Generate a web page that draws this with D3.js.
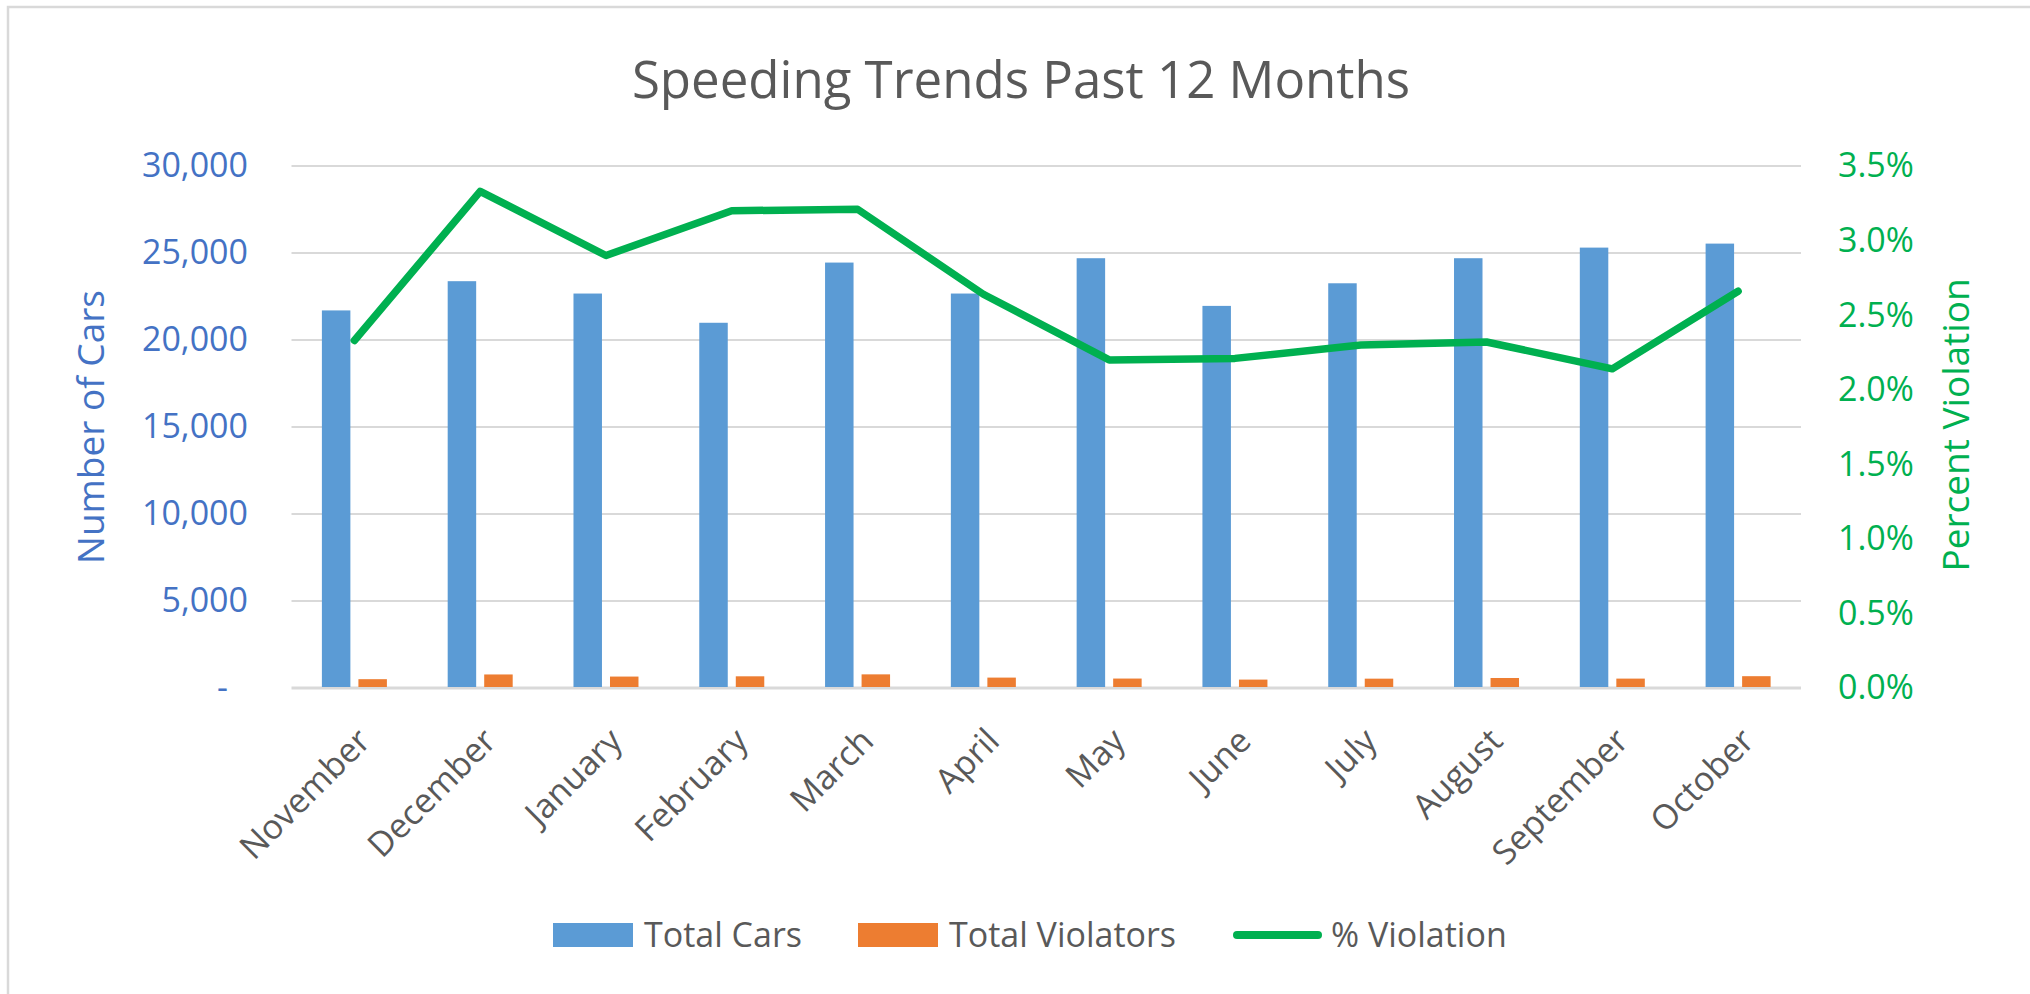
<!DOCTYPE html>
<html>
<head>
<meta charset="utf-8">
<script src="https://cdnjs.cloudflare.com/ajax/libs/d3/7.8.5/d3.min.js"></script>
<style>
  html, body { margin: 0; padding: 0; background: #fff; }
  svg text { font-family: "Segoe UI", "Open Sans", sans-serif; }
</style>
</head>
<body>
<div id="content"></div>
<script>
// Chart data.
var months = ['November', 'December', 'January', 'February', 'March', 'April',
              'May', 'June', 'July', 'August', 'September', 'October'];
var totalCars = [21700, 23380, 22670, 20990, 24450, 22670, 24700, 21960, 23260, 24700, 25310, 25540];
var totalViolators = [507, 778, 657, 672, 784, 598, 543, 483, 537, 575, 540, 679];
var pctViolation = [0.0233, 0.0333, 0.0290, 0.0320, 0.0321, 0.0264, 0.0220, 0.0221, 0.0230, 0.0232, 0.0214, 0.0266];
var leftTicks = [0, 5000, 10000, 15000, 20000, 25000, 30000];
var rightTicks = [0, 0.005, 0.01, 0.015, 0.02, 0.025, 0.03, 0.035];
var seriesNames = ['Total Cars', 'Total Violators', '% Violation'];

var W = 2030, H = 994;
var colors = { cars: '#5B9BD5', viol: '#ED7D31', pct: '#00B050', grid: '#D9D9D9', text: '#595959', left: '#4472C4' };

var svg = d3.select('#content').append('svg')
    .attr('width', W)
    .attr('height', H);

// chart frame (only top and left edges show in the picture)
svg.append('rect')
    .attr('x', 8).attr('y', 7)
    .attr('width', W + 20).attr('height', H + 20)
    .attr('fill', 'none')
    .attr('stroke', colors.grid)
    .attr('stroke-width', 2.5);

var plot = { left: 291.5, right: 1801, top: 166, bottom: 688 };

var x = d3.scaleBand().domain(months).range([plot.left, plot.right]).padding(0);
var inner = d3.scaleBand().domain(['cars', 'viol']).range([-32.5, 32.5]).paddingInner(0.22);
var yLeft = d3.scaleLinear().domain([0, 30000]).range([plot.bottom, plot.top]);
var yRight = d3.scaleLinear().domain([0, 0.035]).range([plot.bottom, plot.top]);

// Title
svg.append('text')
    .attr('x', 1021).attr('y', 98)
    .attr('text-anchor', 'middle')
    .attr('font-size', 51)
    .attr('fill', colors.text)
    .text('Speeding Trends Past 12 Months');

// Gridlines
svg.append('g').selectAll('line')
    .data(leftTicks)
    .enter().append('line')
    .attr('x1', plot.left).attr('x2', plot.right)
    .attr('y1', function(d) { return yLeft(d); })
    .attr('y2', function(d) { return yLeft(d); })
    .attr('stroke', colors.grid)
    .attr('stroke-width', function(d) { return d === 0 ? 2.8 : 2.2; });

// Left axis labels
var leftAxis = d3.axisLeft(yLeft).tickValues(leftTicks).tickSize(0).tickPadding(0)
    .tickFormat(function(d) { return d === 0 ? '-' : d3.format(',')(d); });
var gl = svg.append('g').attr('transform', 'translate(248,0)').call(leftAxis);
gl.select('.domain').remove();
gl.selectAll('text')
    .attr('font-size', 34)
    .attr('fill', colors.left)
    .attr('font-family', '"Segoe UI", "Open Sans", sans-serif')
    .attr('dx', function(d) { return d === 0 ? -20 : 0; });

// Right axis labels
var rightAxis = d3.axisRight(yRight).tickValues(rightTicks).tickSize(0).tickPadding(0)
    .tickFormat(d3.format('.1%'));
var gr = svg.append('g').attr('transform', 'translate(1838,0)').call(rightAxis);
gr.select('.domain').remove();
gr.selectAll('text')
    .attr('font-size', 34)
    .attr('fill', colors.pct)
    .attr('font-family', '"Segoe UI", "Open Sans", sans-serif');

// Category labels, rotated
var bottomAxis = d3.axisBottom(x).tickSize(0).tickPadding(0);
var gb = svg.append('g').attr('transform', 'translate(0,743)').call(bottomAxis);
gb.select('.domain').remove();
gb.selectAll('text')
    .attr('font-size', 34)
    .attr('fill', colors.text)
    .attr('font-family', '"Segoe UI", "Open Sans", sans-serif')
    .attr('text-anchor', 'end')
    .attr('dy', 0)
    .attr('transform', 'translate(18,0) rotate(-45)');

// Axis titles
svg.append('text')
    .attr('transform', 'translate(91,427) rotate(-90)')
    .attr('text-anchor', 'middle')
    .attr('dy', '0.35em')
    .attr('font-size', 37)
    .attr('fill', colors.left)
    .text('Number of Cars');

svg.append('text')
    .attr('transform', 'translate(1956,425) rotate(-90)')
    .attr('text-anchor', 'middle')
    .attr('dy', '0.35em')
    .attr('font-size', 37)
    .attr('fill', colors.pct)
    .text('Percent Violation');

// Bars
svg.append('g').selectAll('rect')
    .data(totalCars)
    .enter().append('rect')
    .attr('x', function(d, i) { return x(months[i]) + x.bandwidth() / 2 + inner('cars'); })
    .attr('y', function(d) { return yLeft(d); })
    .attr('width', inner.bandwidth())
    .attr('height', function(d) { return yLeft(0) - yLeft(d) - 1; })
    .attr('fill', colors.cars);

svg.append('g').selectAll('rect')
    .data(totalViolators)
    .enter().append('rect')
    .attr('x', function(d, i) { return x(months[i]) + x.bandwidth() / 2 + inner('viol'); })
    .attr('y', function(d) { return yLeft(d); })
    .attr('width', inner.bandwidth())
    .attr('height', function(d) { return yLeft(0) - yLeft(d) - 1; })
    .attr('fill', colors.viol);

// % Violation line on the right axis
var line = d3.line()
    .x(function(d, i) { return x(months[i]) + x.bandwidth() / 2; })
    .y(function(d) { return yRight(d); });

svg.append('path')
    .datum(pctViolation)
    .attr('d', line)
    .attr('fill', 'none')
    .attr('stroke', colors.pct)
    .attr('stroke-width', 7.5)
    .attr('stroke-linejoin', 'round')
    .attr('stroke-linecap', 'round');

// Legend
var legendX = [553, 858, 1233];
var legend = svg.append('g');
legend.append('rect')
    .attr('x', legendX[0]).attr('y', 923).attr('width', 80).attr('height', 24)
    .attr('fill', colors.cars);
legend.append('rect')
    .attr('x', legendX[1]).attr('y', 923).attr('width', 80).attr('height', 24)
    .attr('fill', colors.viol);
legend.append('line')
    .attr('x1', legendX[2] + 4).attr('x2', legendX[2] + 85)
    .attr('y1', 935).attr('y2', 935)
    .attr('stroke', colors.pct)
    .attr('stroke-width', 8)
    .attr('stroke-linecap', 'round');
legend.selectAll('text')
    .data(seriesNames)
    .enter().append('text')
    .attr('x', function(d, i) { return [644, 949, 1331][i]; })
    .attr('y', 935)
    .attr('dy', '0.35em')
    .attr('font-size', 34)
    .attr('fill', colors.text)
    .text(function(d) { return d; });
</script>
</body>
</html>
